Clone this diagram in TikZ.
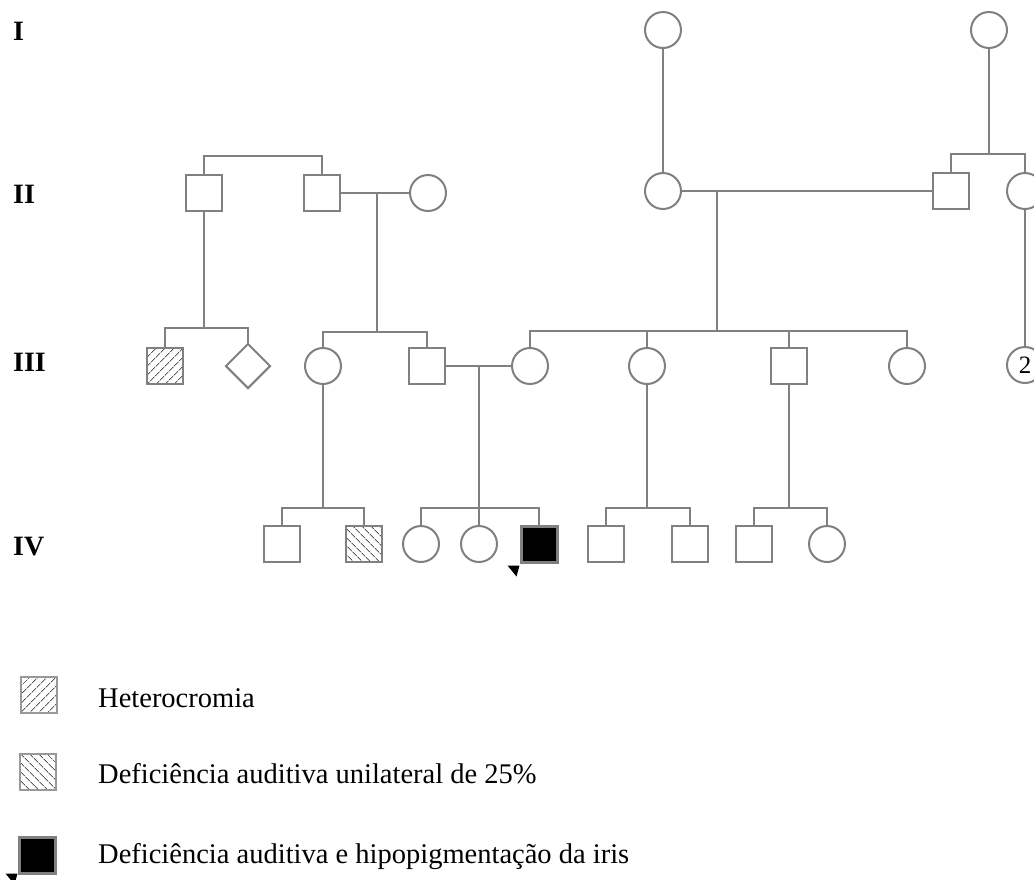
\documentclass[tikz,border=0pt]{standalone}
\usepackage{fontspec}
\setmainfont{Liberation Serif}
\usetikzlibrary{shapes.geometric,patterns.meta}

\definecolor{lin}{RGB}{128,128,128}
\definecolor{hatch}{RGB}{90,90,90}

\tikzset{
  person/.style={draw=lin, line width=2pt, inner sep=0pt, fill=white},
  male/.style={person, rectangle, minimum size=36pt},
  female/.style={person, circle, minimum size=36pt},
  unknown/.style={person, diamond, minimum size=45pt},
  hetero/.style={pattern={Lines[angle=45,distance=6.5pt,line width=0.8pt]}, pattern color=hatch},
  unilat/.style={pattern={Lines[angle=-45,distance=6.5pt,line width=0.8pt]}, pattern color=hatch},
  affected/.style={fill=black, line width=3pt},
  link/.style={draw=lin, line width=2pt},
  gen/.style={anchor=base west, inner sep=0pt, font=\fontsize{28}{32}\selectfont\bfseries},
  legtext/.style={anchor=base west, inner sep=0pt, font=\fontsize{28.5}{32}\selectfont},
}

\begin{document}
\begin{tikzpicture}[x=1pt, y=-1pt]
\useasboundingbox (0,0) rectangle (1034,879);

% generation labels
\node[gen] (gI)   at (13,40)  {I};
\node[gen] (gII)  at (13,203) {II};
\node[gen] (gIII) at (13,371) {III};
\node[gen] (gIV)  at (13,555) {IV};

% generation I
\node[female] (I1) at (663,30) {};
\node[female] (I2) at (989,30) {};

% generation II
\node[male]   (II1) at (204,193) {};
\node[male]   (II2) at (322,193) {};
\node[female] (II3) at (428,193) {};
\node[female] (II4) at (663,191) {};
\node[male]   (II5) at (951,191) {};
\node[female] (II6) at (1025,191) {};

% generation III
\node[male, hetero] (III1) at (165,366) {};
\node[unknown]      (III2) at (248,366) {};
\node[female]       (III3) at (323,366) {};
\node[male]         (III4) at (427,366) {};
\node[female]       (III5) at (530,366) {};
\node[female]       (III6) at (647,366) {};
\node[male]         (III7) at (789,366) {};
\node[female]       (III8) at (907,366) {};
\node[female, font=\fontsize{25}{26}\selectfont] (III9) at (1025,365) {2};

% generation IV
\node[male]           (IV1) at (282,544) {};
\node[male, unilat]   (IV2) at (364,544) {};
\node[female]         (IV3) at (421,544) {};
\node[female]         (IV4) at (479,544) {};
\node[male, affected] (IV5) at (539,544) {};
\node[male]           (IV6) at (606,544) {};
\node[male]           (IV7) at (690,544) {};
\node[male]           (IV8) at (754,544) {};
\node[female]         (IV9) at (827,544) {};

% junction points of the lines
\coordinate (sA) at (263,156);   % sibship of II1, II2
\coordinate (sB) at (989,154);   % sibship of II5, II6
\coordinate (mA) at (377,193);   % mating II2 x II3
\coordinate (mB) at (717,191);   % mating II4 x II5
\coordinate (sC) at (204,328);   % sibship of III1, III2
\coordinate (sD) at (377,332);   % sibship of III3, III4
\coordinate (sE) at (717,331);   % sibship of III5 .. III8
\coordinate (mC) at (479,366);   % mating III4 x III5
\coordinate (sF) at (323,508);   % sibship of IV1, IV2
\coordinate (sG) at (479,508);   % sibship of IV3 .. IV5
\coordinate (sH) at (647,508);   % sibship of IV6, IV7
\coordinate (sI) at (789,508);   % sibship of IV8, IV9

\begin{scope}[link]
  % generation I to II
  \draw (I1) -- (II4);
  \draw (I2) -- (sB);
  \draw (II5.north) |- (sB) -| (II6.north);
  \draw (II1.north) |- (sA) -| (II2.north);

  % matings in generation II
  \draw (II2) -- (II3);
  \draw (II4) -- (II5);

  % generation II to III
  \draw (II1) -- (sC);
  \draw (III1.north) |- (sC) -| (III2.north);
  \draw (mA) -- (sD);
  \draw (III3.north) |- (sD) -| (III4.north);
  \draw (mB) -- (sE);
  \draw (III5.north) |- (sE) -| (III8.north);
  \draw (III6.north) -- (III6.north |- sE);
  \draw (III7.north) -- (III7.north |- sE);
  \draw (II6) -- (III9);

  % mating in generation III
  \draw (III4) -- (III5);

  % generation III to IV
  \draw (III3) -- (sF);
  \draw (IV1.north) |- (sF) -| (IV2.north);
  \draw (mC) -- (sG);
  \draw (IV3.north) |- (sG) -| (IV5.north);
  \draw (IV4.north) -- (IV4.north |- sG);
  \draw (III6) -- (sH);
  \draw (IV6.north) |- (sH) -| (IV7.north);
  \draw (III7) -- (sI);
  \draw (IV8.north) |- (sI) -| (IV9.north);
\end{scope}

% proband marker
\fill[shift={(IV5.south west)}] (-12,2) -- (0,2) -- (-3,13) -- cycle;

% legend
\node[male, hetero, draw=lin!80] (L1) at (39,695) {};
\node[legtext] (T1) at (98,707) {Heterocromia};
\node[male, unilat, draw=lin!80] (L2) at (38,772) {};
\node[legtext] (T2) at (98,783) {Deficiência auditiva unilateral de 25\%};
\node[male, affected] (L3) at (37,855) {};
\node[legtext] (T3) at (98,863) {Deficiência auditiva e hipopigmentação da iris};
\fill[shift={(L3.south west)}] (-12,-1) -- (0,-1) -- (-3,10) -- cycle;
\end{tikzpicture}
\end{document}
